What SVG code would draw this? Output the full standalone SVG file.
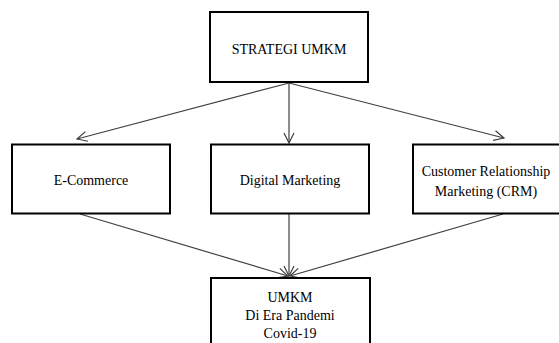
<svg xmlns="http://www.w3.org/2000/svg" width="559" height="343" viewBox="0 0 559 343">
<style>
.box{fill:#fff;stroke:#000;stroke-width:2}
text{font-family:'Liberation Serif','Times New Roman','DejaVu Serif',serif;font-size:14px;fill:#000;text-anchor:middle}
.c{stroke:#404040;stroke-width:1.2;fill:none;marker-end:url(#arr)}
</style>
<defs>
<marker id="arr" viewBox="0 0 12 12" refX="11" refY="6" markerWidth="12" markerHeight="12" markerUnits="userSpaceOnUse" orient="auto">
<polyline points="1,1 11,6 1,11" fill="none" stroke="#404040" stroke-width="1.2"/>
</marker>
</defs>
<rect width="559" height="343" fill="#fff"/>
<g id="connectors">
<line class="c" x1="289" y1="83" x2="77" y2="139"/>
<line class="c" x1="289" y1="83" x2="289" y2="143"/>
<line class="c" x1="289" y1="83" x2="504" y2="138"/>
<line class="c" x1="80" y1="214" x2="288" y2="276"/>
<line class="c" x1="289" y1="214" x2="289" y2="276"/>
<line class="c" x1="503" y1="214" x2="290" y2="276"/>
</g>
<g id="strategi">
<rect class="box" x="210" y="12" width="158" height="70"/>
<text x="289" y="54" font-family="Liberation Serif, serif">STRATEGI UMKM</text>
</g>
<g id="ecommerce">
<rect class="box" x="12" y="144.5" width="158" height="69"/>
<text x="91" y="185" font-family="Liberation Serif, serif">E-Commerce</text>
</g>
<g id="digital">
<rect class="box" x="211" y="144.5" width="158" height="69"/>
<text x="290" y="185" font-family="Liberation Serif, serif">Digital Marketing</text>
</g>
<g id="crm">
<rect class="box" x="413" y="144.5" width="149" height="69"/>
<text x="486" y="176" font-family="Liberation Serif, serif">Customer Relationship</text>
<text x="486" y="196" font-family="Liberation Serif, serif">Marketing (CRM)</text>
</g>
<g id="umkm">
<rect class="box" x="211" y="278" width="159" height="70"/>
<text x="290" y="302" font-family="Liberation Serif, serif">UMKM</text>
<text x="290" y="320" font-family="Liberation Serif, serif">Di Era Pandemi</text>
<text x="290" y="338" font-family="Liberation Serif, serif">Covid-19</text>
</g>
</svg>
